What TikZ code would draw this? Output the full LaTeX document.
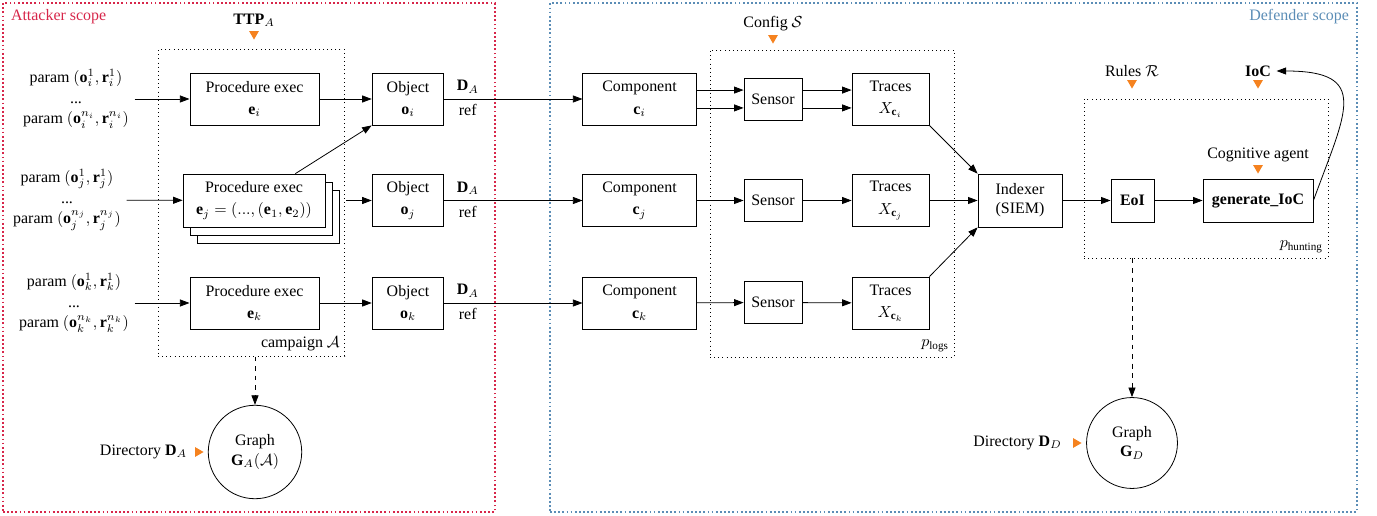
\documentclass[tikz,border=0pt]{standalone}
\usepackage{fontspec}
\setmainfont{Liberation Serif}
\usetikzlibrary{arrows.meta,shapes.geometric,shadows}

\definecolor{atkred}{HTML}{D7264A}
\definecolor{defblue}{HTML}{5B8DB6}
\definecolor{markorange}{HTML}{F5821F}

\tikzset{
  procbox/.style={draw,line width=0.5pt,align=center,inner sep=1pt,minimum height=32.6pt},
  groupbox/.style={draw,dotted,line width=0.6pt,inner sep=0pt},
  scopebox/.style={draw,line width=1.1pt,dash pattern=on 1.1pt off 1.5pt,inner sep=0pt},
  markdown/.style={fill=markorange,regular polygon,regular polygon sides=3,
    shape border rotate=180,minimum size=7pt,inner sep=0pt},
  markright/.style={markdown,shape border rotate=-90},
  graphnode/.style={draw,circle,line width=0.5pt,inner sep=0pt,align=center},
  >={Triangle[length=6pt,width=4.4pt]},
}

\begin{document}
\begin{tikzpicture}[x=0.627pt,y=-0.627pt,line width=0.5pt]

\useasboundingbox (0,0) rectangle (1377,516);

% scopes
\node[scopebox,draw=atkred,minimum width=308.5pt,minimum height=319pt] (atk) at (249,257.5) {};
\node[scopebox,draw=defblue,minimum width=506pt,minimum height=319pt] (def) at (953.5,257.5) {};
\node[anchor=north west,text=atkred] (atklabel) at ([xshift=2pt,yshift=-1pt]atk.north west) {Attacker scope};
\node[anchor=north east,text=defblue] (deflabel) at ([xshift=-2pt,yshift=-1pt]def.north east) {Defender scope};

% groups
\node[groupbox,minimum width=117.2pt,minimum height=191.9pt] (camp) at (251.5,203) {};
\node[groupbox,minimum width=153pt,minimum height=192.5pt] (logs) at (832,203.5) {};
\node[groupbox,minimum width=153pt,minimum height=99.7pt] (hunt) at (1206,178.5) {};
\node[anchor=south east] (camplabel) at (camp.south east) {campaign $\mathcal{A}$};
\node[anchor=south east] (logslabel) at (logs.south east) {$p_{\mathrm{logs}}$};
\node[anchor=south east] (huntlabel) at (hunt.south east) {$p_{\mathrm{hunting}}$};

% inputs
\node (ttp) at (254,20) {$\mathbf{TTP}_A$};
\node[markdown] (ttpm) at (254,34) {};
\node (config) at (773,24) {Config $\mathcal{S}$};
\node[markdown] (configm) at (773,38) {};
\node (rules) at (1132,71) {Rules $\mathcal{R}$};
\node[markdown] (rulesm) at (1132,83) {};
\node (ioc) at (1258,71) {\textbf{IoC}};
\node[markdown] (iocm) at (1258,83) {};
\node (cog) at (1258,155) {Cognitive agent};
\node[markdown] (cogm) at (1258,168) {};

% params
\node[align=center] (pi) at (76,99) {param $(\mathbf{o}_i^1,\mathbf{r}_i^1)$\\[1pt]...\\[1pt]param $(\mathbf{o}_i^{n_i},\mathbf{r}_i^{n_i})$};
\node[align=center] (pj) at (67,200) {param $(\mathbf{o}_j^1,\mathbf{r}_j^1)$\\[1pt]...\\[1pt]param $(\mathbf{o}_j^{n_j},\mathbf{r}_j^{n_j})$};
\node[align=center] (pk) at (74,303) {param $(\mathbf{o}_k^1,\mathbf{r}_k^1)$\\[1pt]...\\[1pt]param $(\mathbf{o}_k^{n_k},\mathbf{r}_k^{n_k})$};

% procedures
\node[procbox,minimum width=81pt] (ei) at (254.5,99) {Procedure exec\\[2pt]$\mathbf{e}_i$};
\node[procbox,fill=white,minimum width=89pt,minimum height=33.2pt,
  double copy shadow={shadow xshift=4.4pt,shadow yshift=-5pt}] (ej) at (254,200.5)
  {Procedure exec\\[2pt]$\mathbf{e}_j=(...,(\mathbf{e}_1,\mathbf{e}_2))$};
\node[procbox,minimum width=81pt] (ek) at (254.5,303) {Procedure exec\\[2pt]$\mathbf{e}_k$};

% objects
\node[procbox,minimum width=45pt] (oi) at (408,99) {Object\\[2pt]$\mathbf{o}_i$};
\node[procbox,minimum width=45pt] (oj) at (408,200.5) {Object\\[2pt]$\mathbf{o}_j$};
\node[procbox,minimum width=45pt] (ok) at (408,303) {Object\\[2pt]$\mathbf{o}_k$};

% components
\node[procbox,minimum width=71pt] (ci) at (639.5,99) {Component\\[2pt]$\mathbf{c}_i$};
\node[procbox,minimum width=71pt] (cj) at (639.5,200.5) {Component\\[2pt]$\mathbf{c}_j$};
\node[procbox,minimum width=71pt] (ck) at (639.5,303) {Component\\[2pt]$\mathbf{c}_k$};

% sensors
\node[procbox,minimum width=36.4pt,minimum height=26.3pt] (si) at (773,99) {Sensor};
\node[procbox,minimum width=36.4pt,minimum height=26.3pt] (sj) at (773,200.5) {Sensor};
\node[procbox,minimum width=36.4pt,minimum height=26.3pt] (sk) at (773,302.5) {Sensor};

% traces
\node[procbox,minimum width=48.3pt] (ti) at (890.5,99) {Traces\\[2pt]$X_{\mathbf{c}_i}$};
\node[procbox,minimum width=48.3pt] (tj) at (890.5,200.5) {Traces\\[2pt]$X_{\mathbf{c}_j}$};
\node[procbox,minimum width=48.3pt] (tk) at (890.5,303) {Traces\\[2pt]$X_{\mathbf{c}_k}$};

% hunting
\node[procbox,minimum width=52.7pt,minimum height=33.2pt] (idx) at (1020,200.5) {Indexer\\(SIEM)};
\node[procbox,minimum width=27pt,minimum height=27pt] (eoi) at (1132.5,200.5) {\textbf{EoI}};
\node[procbox,minimum width=69pt,minimum height=27pt] (gen) at (1258,200.5) {\textbf{generate\_IoC}};

% graphs
\node[graphnode,minimum size=58.6pt] (ga) at (255,452) {Graph\\$\mathbf{G}_A(\mathcal{A})$};
\node[graphnode,minimum size=57pt] (gd) at (1132,443) {Graph\\$\mathbf{G}_D$};
\node (dira) at (143.5,452) {Directory $\mathbf{D}_A$};
\node[markright] (diram) at (198,452) {};
\node (dird) at (1017.5,443) {Directory $\mathbf{D}_D$};
\node[markright] (dirdm) at (1076,443) {};

% attacker flow
\draw[->] (pi) -- (ei);
\draw[->] (pj) -- (ej);
\draw[->] (pk) -- (ek);
\draw[->] (ei) -- (oi);
\draw[->] ([xshift=13pt]ej.east) -- (oj);
\draw[->] (ej.33) -- (oi.south west);
\draw[->] (ek) -- (ok);
\draw[->,dashed] (camp.south -| ga) -- (ga);

\draw[->] (oi) -- node[above,pos=.17] {$\mathbf{D}_A$} node[below,pos=.17] {ref} (ci);
\draw[->] (oj) -- node[above,pos=.17] {$\mathbf{D}_A$} node[below,pos=.17] {ref} (cj);
\draw[->] (ok) -- node[above,pos=.17] {$\mathbf{D}_A$} node[below,pos=.17] {ref} (ck);

% defender flow
\draw[->] ([yshift=5.6pt]ci.east) -- ([yshift=5.6pt]si.west);
\draw[->] ([yshift=-5.6pt]ci.east) -- ([yshift=-5.6pt]si.west);
\draw[->] ([yshift=5.6pt]si.east) -- ([yshift=5.6pt]ti.west);
\draw[->] ([yshift=-5.6pt]si.east) -- ([yshift=-5.6pt]ti.west);
\draw[->] (cj) -- (sj);
\draw[->] (sj) -- (tj);
\draw[->] (ck) -- (sk);
\draw[->] (sk) -- (tk);

\draw[->] (ti.south east) -- (idx.north west);
\draw[->] (tj) -- (idx);
\draw[->] (tk.north east) -- (idx.south west);
\draw[->] (idx) -- (eoi);
\draw[->] (eoi) -- (gen);
\draw[->] (gen.east) to[out=70,in=0,looseness=1.8] (ioc.east);
\draw[->,dashed] (hunt.south -| gd) -- (gd);

\end{tikzpicture}
\end{document}
